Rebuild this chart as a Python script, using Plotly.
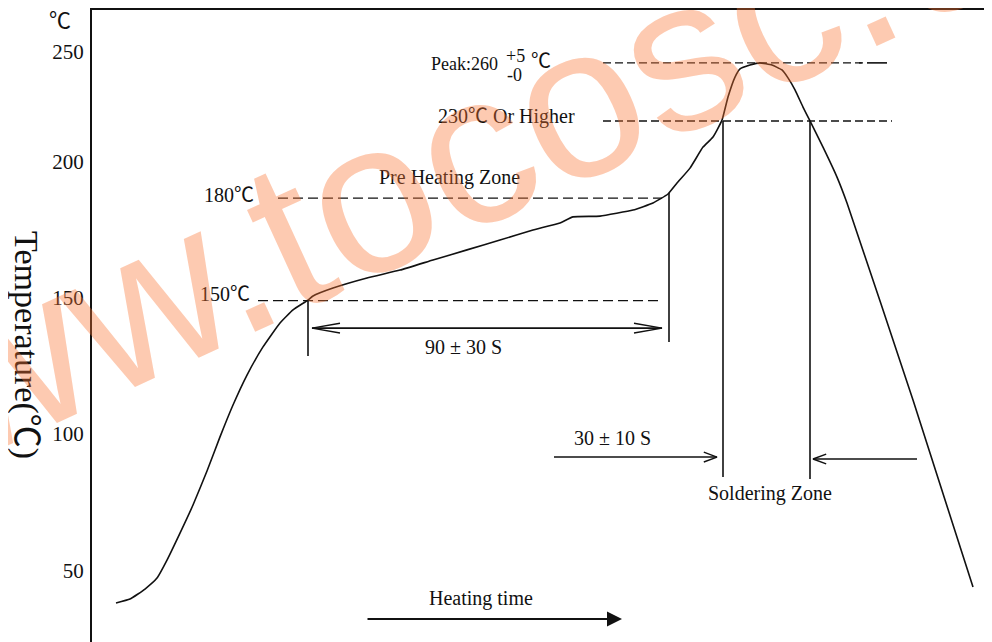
import plotly.graph_objects as go

# ---------------- data (time in s, temperature in axis units) ----------------
time_s = [6.0, 9.5, 13.25, 16.25, 18.75, 22.0, 25.25, 28.75, 32.0, 35.25, 38.75, 42.75,
          47.0, 50.25, 54.0, 55.25, 60.25, 68.75, 77.0, 85.25, 93.75, 102.0, 110.25, 117.0,
          120.25, 127.0, 135.25, 140.25, 144.0, 146.25, 149.5, 152.75, 155.25, 157.5, 159.0,
          160.75, 162.0, 164.5, 167.0, 170.0, 172.5, 174.0, 175.75, 177.75, 179.5, 182.75,
          186.25, 188.75, 205.25, 220.25]
temp = [38.0, 39.4, 43.1, 47.1, 53.7, 63.6, 73.9, 86.4, 98.9, 110.6, 121.6, 131.9,
        140.7, 145.5, 149.1, 150.6, 153.5, 157.2, 160.1, 163.8, 167.5, 171.1, 174.8, 177.4,
        179.6, 179.9, 182.1, 184.7, 188.0, 192.0, 197.5, 205.2, 208.9, 215.1, 223.6,
        230.9, 233.9, 235.3, 236.1, 235.3, 233.5, 230.6, 226.2, 219.9, 214.8, 205.2,
        194.2, 184.7, 112.4, 43.8]

# y tick labels
tick_vals = [50, 100, 150, 200, 240.1]
tick_text = ["50", "100", "150", "200", "250"]

# reference temperature levels (dashed lines)
level_vals = [148.9, 186.5, 214.8, 236.1]
level_start = [41.5, 46.5, 127.75, 127.75]
level_end = [142.5, 142.5, 200.0, 193.25]
peak_solid_end = 198.75

# vertical markers
vline_t = [54.0, 144.25, 157.75, 179.5]
vline_top = [148.9, 188.4, 214.8, 214.8]
vline_bottom = [128.6, 133.7, 84.2, 83.5]

# arrows: (start_t, end_t, level)
preheat_arrow = (55.0, 142.5, 138.8)
solder_arrow_left = (115.5, 156.25, 91.5)
solder_arrow_right = (206.25, 180.25, 90.8)
heating_arrow = (68.5, 132.5, 32.1)

SERIF = "Liberation Serif, Times New Roman, Noto Sans CJK SC, serif"
BLACK = "#111111"

fig = go.Figure()

# profile curve
fig.add_trace(go.Scatter(x=time_s, y=temp, mode="lines",
                         line=dict(color=BLACK, width=1.6, shape="spline", smoothing=0.4),
                         hoverinfo="skip"))

# dashed level lines
dashes = ["10px,5px", "10px,5px", "8px,4px", "8px,4px"]
for v, s, e, d in zip(level_vals, level_start, level_end, dashes):
    fig.add_trace(go.Scatter(x=[s, e], y=[v, v], mode="lines",
                             line=dict(color=BLACK, width=1.4, dash=d), hoverinfo="skip"))
fig.add_trace(go.Scatter(x=[level_end[3] - 1.5, level_end[3] - 0.8], y=[level_vals[3]] * 2, mode="lines",
                         line=dict(color=BLACK, width=1.4), hoverinfo="skip"))
fig.add_trace(go.Scatter(x=[level_end[3] + 0.5, peak_solid_end], y=[level_vals[3]] * 2, mode="lines",
                         line=dict(color=BLACK, width=1.6), hoverinfo="skip"))

# vertical lines
for t, top, bot in zip(vline_t, vline_top, vline_bottom):
    fig.add_trace(go.Scatter(x=[t, t], y=[top, bot], mode="lines",
                             line=dict(color=BLACK, width=1.6), hoverinfo="skip"))


def open_head(tip_t, level, direction, length_t, half_h):
    # chevron head drawn from the tip backwards
    back = tip_t - direction * length_t
    return [back, tip_t, back], [level + half_h, level, level - half_h]


# preheat double arrow
s, e, lv = preheat_arrow
fig.add_trace(go.Scatter(x=[s, e], y=[lv, lv], mode="lines",
                         line=dict(color=BLACK, width=1.6), hoverinfo="skip"))
for tip, dr in [(e, 1), (s, -1)]:
    hx, hy = open_head(tip, lv, dr, 7.0, 1.8)
    fig.add_trace(go.Scatter(x=hx, y=hy, mode="lines",
                             line=dict(color=BLACK, width=1.4), hoverinfo="skip"))

# soldering zone arrows
for s, e, lv in [solder_arrow_left, solder_arrow_right]:
    dr = 1 if e > s else -1
    fig.add_trace(go.Scatter(x=[s, e], y=[lv, lv], mode="lines",
                             line=dict(color=BLACK, width=1.6), hoverinfo="skip"))
    hx, hy = open_head(e, lv, dr, 3.3, 1.8)
    fig.add_trace(go.Scatter(x=hx, y=hy, mode="lines",
                             line=dict(color=BLACK, width=1.4), hoverinfo="skip"))

annotations = []

# heating time arrow (filled head)
s, e, lv = heating_arrow
annotations.append(dict(x=e, y=lv, ax=s, ay=lv, xref="x", yref="y", axref="x", ayref="y",
                        showarrow=True, arrowhead=2, arrowsize=1.5, arrowwidth=2,
                        arrowcolor=BLACK, text=""))

def txt(x, y, text, size=20, xanchor="center", xref="x", yref="y", angle=0):
    annotations.append(dict(x=x, y=y, xref=xref, yref=yref, text=text, showarrow=False,
                            xanchor=xanchor, yanchor="middle", textangle=angle,
                            font=dict(family=SERIF, size=size, color=BLACK)))

# unit label and axis title sit left of the plot area -> paper coordinates
txt(-0.0356, 0.984, "℃", size=22, xref="paper", yref="paper")
txt(-0.0735, 0.47, "Temperature(℃)", size=34, xref="paper", yref="paper", angle=90)

txt(41.0, 187.5, "180℃", xanchor="right")
txt(40.0, 151.5, "150℃", xanchor="right")
txt(89.25, 194.0, "Pre Heating Zone")
txt(121.25, 216.3, "230℃ Or Higher", xanchor="right")
txt(102.0, 235.6, "Peak:260", size=18, xanchor="right")
txt(105.75, 238.8, "+5", size=18)
txt(105.5, 231.8, "-0", size=18)
txt(112.25, 236.8, "℃", size=20)
txt(92.75, 132.0, "90 ± 30 S")
txt(130.0, 98.6, "30 ± 10 S")
txt(169.5, 78.2, "Soldering Zone")
txt(97.25, 39.6, "Heating time")

# watermark
annotations.append(dict(x=107.25, y=212.6, xref="x", yref="y", text="www.tocosc.com",
                        showarrow=False, textangle=-24.7, xanchor="center", yanchor="middle",
                        font=dict(family="Liberation Sans, Arial, sans-serif", size=216,
                                  color="rgba(249,115,50,0.38)")))

# the page body adds an 8px margin, so the figure is 8px smaller than the window
fig.update_layout(
    width=984, height=634,
    margin=dict(l=84, r=0, t=2, b=0),
    paper_bgcolor="white", plot_bgcolor="white",
    showlegend=False, hovermode=False,
    annotations=annotations,
    xaxis=dict(range=[0, 225], side="top", showline=True, linewidth=2, linecolor=BLACK,
               showticklabels=False, ticks="", showgrid=False, zeroline=False),
    yaxis=dict(range=[23.66, 255.5], showline=True, linewidth=2, linecolor=BLACK,
               tickvals=tick_vals, ticktext=tick_text, ticks="", showgrid=False,
               zeroline=False, ticklabelstandoff=2,
               tickfont=dict(family=SERIF, size=21, color=BLACK)),
)

fig.write_html("out.html")
